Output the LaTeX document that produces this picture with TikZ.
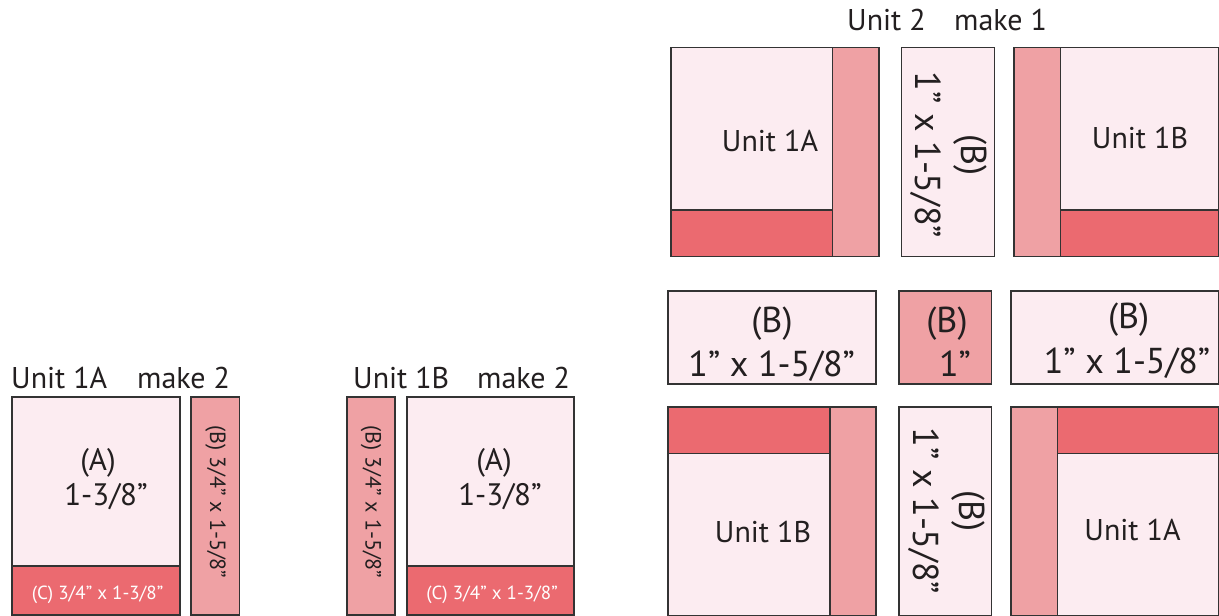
\documentclass[tikz,border=0pt]{standalone}
\usepackage{fontspec}
\setmainfont{PT Sans}
\definecolor{lightp}{HTML}{FCECF1}
\definecolor{midp}{HTML}{EFA1A4}
\definecolor{darkp}{HTML}{EB6A70}
\definecolor{edge}{HTML}{333333}
\definecolor{ink}{HTML}{231F20}
\tikzset{
  pieceA/.style={fill=lightp, draw=edge, line width=1.2pt},
  pieceB/.style={fill=midp, draw=edge, line width=1.2pt},
  pieceC/.style={fill=darkp, draw=edge, line width=1.2pt},
  txt/.style={inner sep=0pt, text=ink, anchor=base},
  lbl/.style={txt, font=\fontsize{30}{36}\selectfont},
  bigt/.style={txt, font=\fontsize{36}{44}\selectfont},
  midt/.style={txt, font=\fontsize{31}{36}\selectfont},
  ctext/.style={txt, text=white, font=\fontsize{19}{23}\selectfont},
  stript/.style={inner sep=0pt, text=ink, rotate=-90, anchor=center, font=\fontsize{22}{27}\selectfont},
  rotbig/.style={inner sep=0pt, text=ink, rotate=-90, anchor=center, align=center, font=\fontsize{36}{46}\selectfont},
}
\begin{document}
\begin{tikzpicture}[x=1pt, y=-1pt]
\useasboundingbox (0,0) rectangle (1219,616);

% ---------- Unit 1A (left) ----------
\path[pieceA] (12,397) rectangle (180,566);
\path[pieceC] (12,566) rectangle (180,615);
\path[pieceB] (191,397) rectangle (239.3,615);
\node[lbl, anchor=base west] (u1alab) at (11,388) {Unit 1A};
\node[lbl, anchor=base west] (u1amk) at (137,388) {make 2};
\node[midt] (u1aA) at (98,470) {(A)};
\node[midt] (u1asz) at (106,505.7) {1-3/8”};
\node[ctext] (u1aC) at (97.5,599.3) {(C) 3/4” x 1-3/8”};
\node[stript] (u1aB) at (215.5,502) {(B) 3/4” x 1-5/8”};

% ---------- Unit 1B (left) ----------
\path[pieceB] (347,397) rectangle (395,615);
\path[pieceA] (407,397) rectangle (574,566);
\path[pieceC] (407,566) rectangle (574,615);
\node[lbl, anchor=base west] (u1blab) at (353,388) {Unit 1B};
\node[lbl, anchor=base west] (u1bmk) at (477,388) {make 2};
\node[midt] (u1bA) at (494,470) {(A)};
\node[midt] (u1bsz) at (500,505.7) {1-3/8”};
\node[ctext] (u1bC) at (492,599.3) {(C) 3/4” x 1-3/8”};
\node[stript] (u1bB) at (371,502) {(B) 3/4” x 1-5/8”};

% ---------- Unit 2 ----------
\node[lbl, anchor=base west] (u2lab) at (847,30) {Unit 2};
\node[lbl, anchor=base west] (u2mk) at (954,30) {make 1};

% top-left block
\path[pieceA] (671,47.3) rectangle (832.7,210);
\path[pieceC] (671,210) rectangle (832.7,256.7);
\path[pieceB] (832.7,47.3) rectangle (879,256.7);
\node[lbl] (tl) at (770,151.7) {Unit 1A};

% top-middle strip
\path[pieceA] (901.7,47.3) rectangle (994.3,256.7);
\node[rotbig] (tm) at (949,155) {(B)\\1” x 1-5/8”};

% top-right block
\path[pieceB] (1014,47.3) rectangle (1060.7,256.7);
\path[pieceA] (1060.7,47.3) rectangle (1218.5,210);
\path[pieceC] (1060.7,210) rectangle (1218.5,256.7);
\node[lbl] (tr) at (1140,148) {Unit 1B};

% middle row
\path[pieceA] (668,291) rectangle (876,384);
\node[bigt] (ml1) at (772,332) {(B)};
\node[bigt] (ml2) at (771.7,376.7) {1” x 1-5/8”};
\path[pieceB] (899,291) rectangle (991.7,384);
\node[bigt] (mm1) at (947,332) {(B)};
\node[bigt] (mm2) at (955,376.7) {1”};
\path[pieceA] (1011,291) rectangle (1218.5,384);
\node[bigt] (mr1) at (1128.6,328) {(B)};
\node[bigt] (mr2) at (1127,373) {1” x 1-5/8”};

% bottom-left block
\path[pieceC] (668,407) rectangle (830,453.3);
\path[pieceA] (668,453.3) rectangle (830,615.3);
\path[pieceB] (830,407) rectangle (876,615.3);
\node[lbl] (bl) at (763,542.3) {Unit 1B};

% bottom-middle strip
\path[pieceA] (899,407) rectangle (991.7,615.3);
\node[rotbig] (bm) at (947,511) {(B)\\1” x 1-5/8”};

% bottom-right block
\path[pieceB] (1011,407) rectangle (1057.3,615.3);
\path[pieceC] (1057.3,407) rectangle (1218.5,453.3);
\path[pieceA] (1057.3,453.3) rectangle (1218.5,615.3);
\node[lbl] (br) at (1132.5,540) {Unit 1A};
\end{tikzpicture}
\end{document}
